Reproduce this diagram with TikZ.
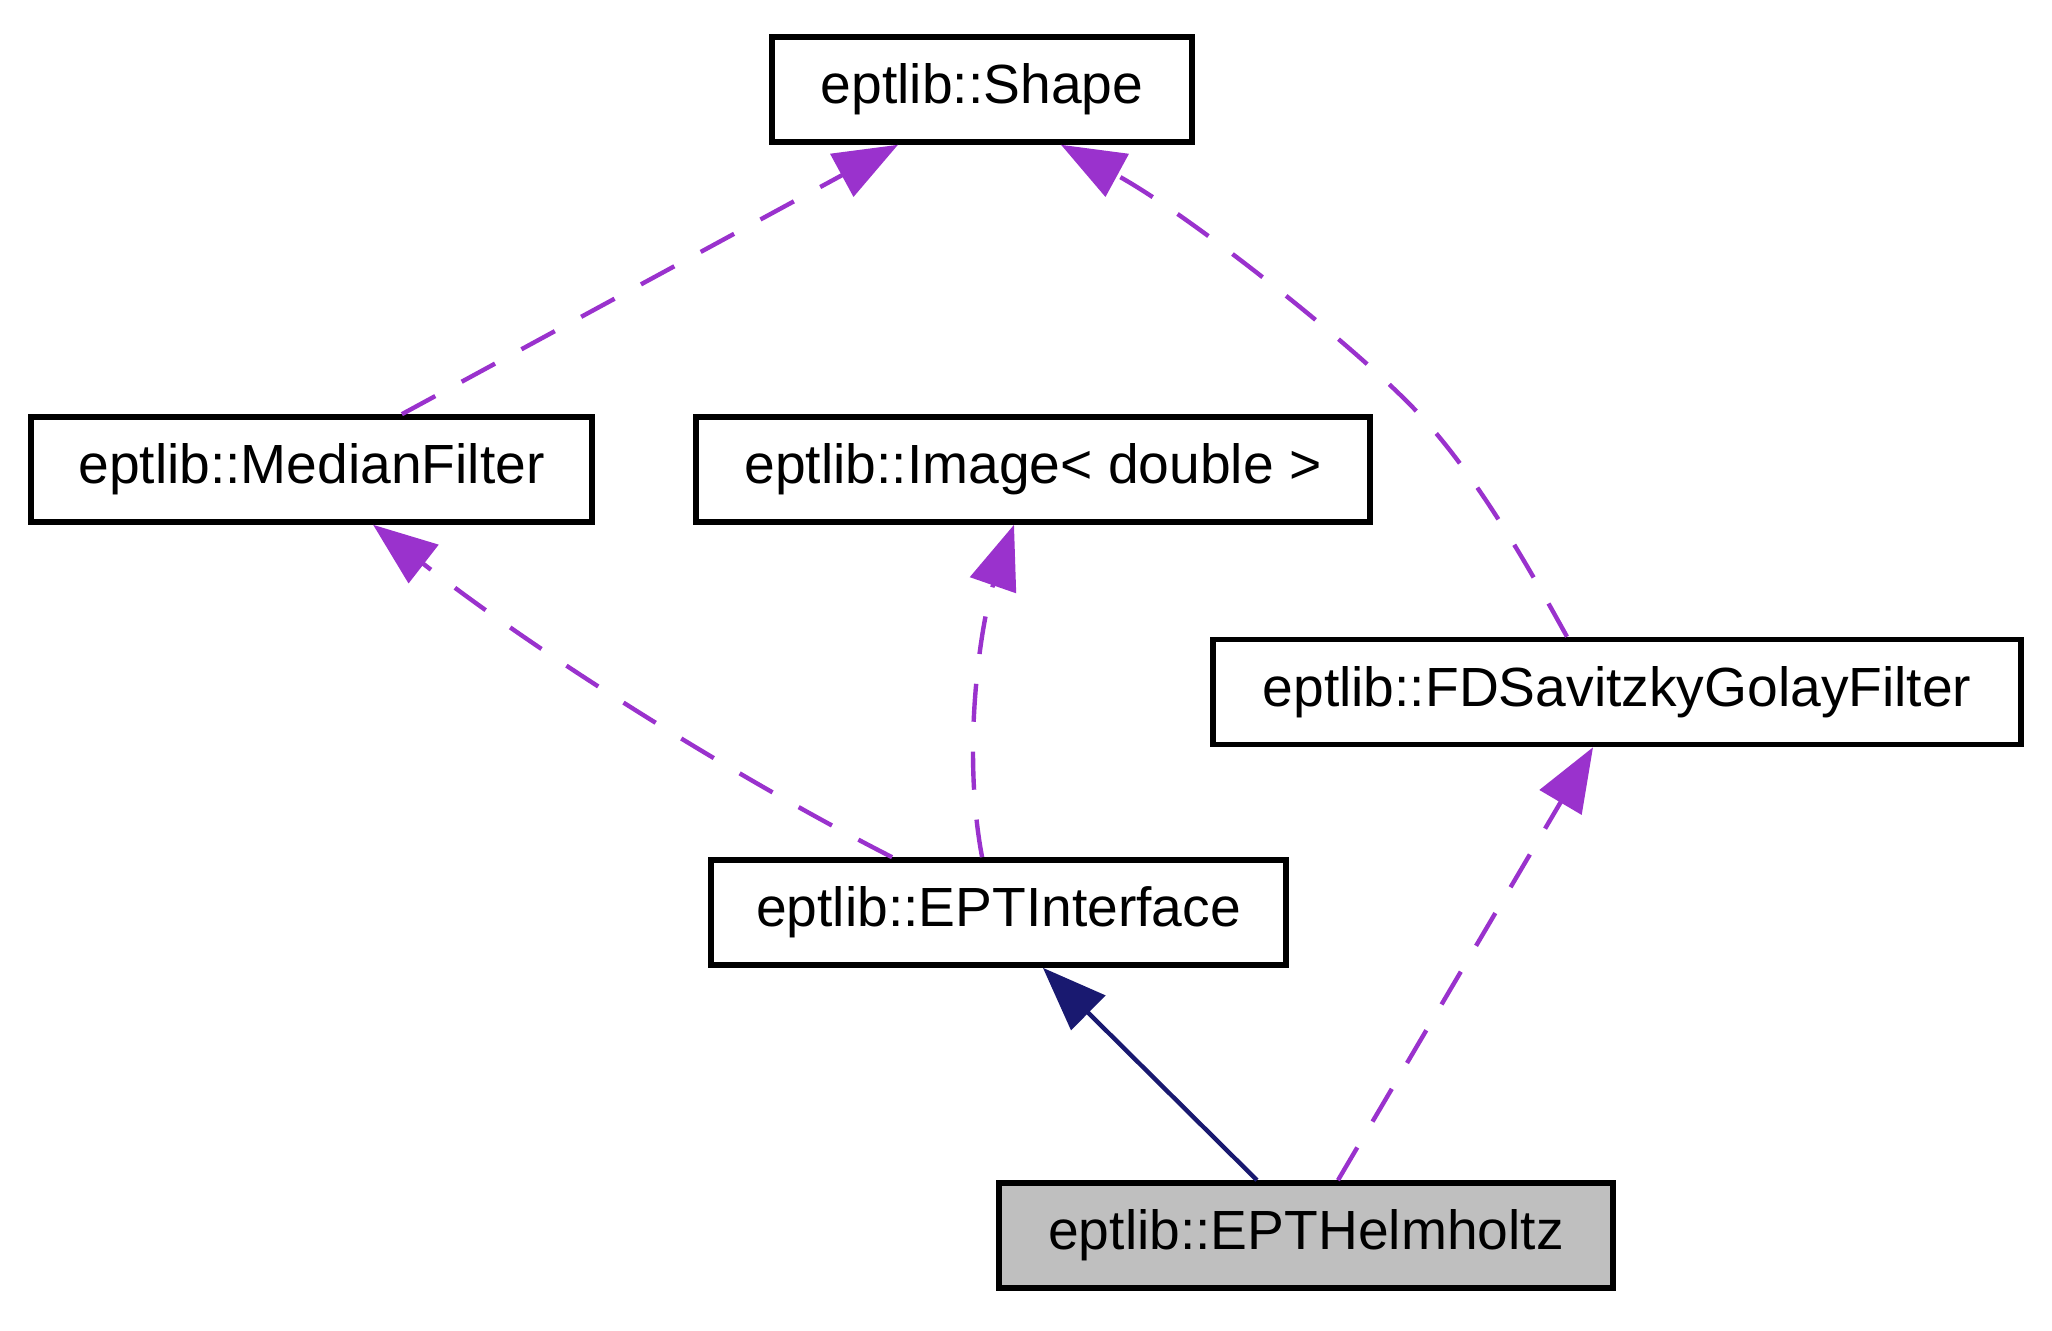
\documentclass[tikz,border=0pt]{standalone}
\usepackage{fontspec}
\setmainfont{Liberation Sans}
\usetikzlibrary{arrows.meta}

\definecolor{usecol}{HTML}{9A32CD}
\definecolor{inhcol}{HTML}{191970}
\definecolor{curfill}{HTML}{BFBFBF}

\tikzset{
  cls/.style={draw, line width=1.4bp, inner sep=0pt, minimum height=26.25bp,
              font=\fontsize{13.8bp}{16bp}\selectfont},
  cur/.style={cls, fill=curfill},
  dep/.style={draw=usecol, line width=1.1bp, dash pattern=on 9.5bp off 7.5bp,
              -{Triangle[length=16bp, width=12bp, fill=usecol]}},
  inh/.style={draw=inhcol, line width=1.1bp,
              -{Triangle[length=16bp, width=12bp, fill=inhcol]}},
}

\begin{document}
\begin{tikzpicture}[x=0.25bp, y=-0.25bp]
\useasboundingbox (0,0) rectangle (2052,1331);
\node[cls, minimum width=105bp]    (shape)  at (982, 89.5)   {eptlib::Shape};
\node[cls, minimum width=140.25bp] (median) at (311.5, 469.5) {eptlib::MedianFilter};
\node[cls, minimum width=168.5bp]  (image)  at (1033, 469.5)  {eptlib::Image< double >};
\node[cls, minimum width=202bp]    (fdsg)   at (1617, 692)    {eptlib::FDSavitzkyGolayFilter};
\node[cls, minimum width=143.75bp] (epti)   at (998.5, 912.5) {eptlib::EPTInterface};
\node[cur, minimum width=153.5bp]  (helm)   at (1306, 1235.5) {eptlib::EPTHelmholtz};
%
\draw[dep] ([xshift=22.6bp]median.north) -- ([xshift=-21bp]shape.south);
\draw[dep] ([xshift=-12.5bp]fdsg.north)
  .. controls (1530,570) and (1480,480) .. (1420,415)
  .. controls (1360,350) and (1190,215) .. ([xshift=19.75bp]shape.south);
\draw[dep] ([xshift=-26.6bp]epti.north)
  .. controls (760,790) and (560,670) .. ([xshift=15.4bp]median.south);
\draw[dep] ([xshift=-4.1bp]epti.north)
  .. controls (960,740) and (984,611) .. ([xshift=-4.75bp]image.south);
\draw[inh] ([xshift=-12.25bp]helm.north) -- ([xshift=11.1bp]epti.south);
\draw[dep] ([xshift=8bp]helm.north) -- ([xshift=-6bp]fdsg.south);
\end{tikzpicture}
\end{document}
